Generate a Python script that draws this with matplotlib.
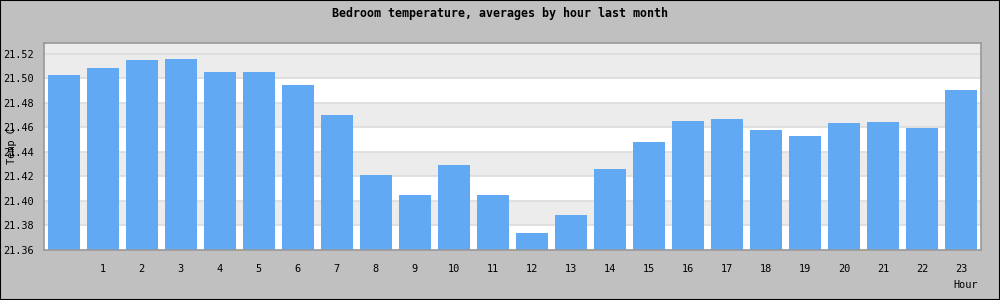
import matplotlib
matplotlib.use("Agg")
import matplotlib.pyplot as plt
import numpy as np

title = "Bedroom temperature, averages by hour last month"
hours = list(range(24))
temps = [21.5024, 21.5081, 21.5146, 21.5154, 21.5048, 21.5048, 21.4942, 21.4698,
         21.4210, 21.4047, 21.4292, 21.4047, 21.3738, 21.3885, 21.4259, 21.4479,
         21.4650, 21.4666, 21.4576, 21.4527, 21.4633, 21.4641, 21.4593, 21.4902]
yticks = [21.36, 21.38, 21.40, 21.42, 21.44, 21.46, 21.48, 21.50, 21.52]
xtick_labels = [str(h) for h in hours[1:]]
xlabel = "Hour"
ylabel = "Temp C"

W, H = 1000, 300
fig = plt.figure(figsize=(W / 100, H / 100), dpi=100, facecolor="#c0c0c0")
fig.patches.append(plt.Rectangle((0, 0), 1, 1, transform=fig.transFigure,
                                 fill=False, edgecolor="black", linewidth=1.5))
left, right, top, bottom = 44, 981, 43, 250
ax = fig.add_axes([left / W, 1 - bottom / H, (right - left) / W, (bottom - top) / H])
ax.set_facecolor("white")

ylo, yhi = 21.36, 21.5287
ax.set_ylim(ylo, yhi)
ax.set_xlim(-0.5, 23.5)

# alternating bands
for i in range(len(yticks)):
    lo = yticks[i]
    hi = yticks[i + 1] if i + 1 < len(yticks) else yhi
    if i % 2 == 1 or i == len(yticks) - 1:
        ax.axhspan(lo, hi, color="#ececec", zorder=0, linewidth=0)
for y in yticks[1:]:
    ax.axhline(y, color="#dcdcdc", linewidth=1.2, zorder=0.5)

ax.bar(hours, temps, width=0.82, bottom=0, color="#61a9f3", zorder=2)
ax.set_ylim(ylo, yhi)

mono = "DejaVu Sans Mono"
ax.set_yticks(yticks)
ax.set_yticklabels([f"{v:.2f}" for v in yticks], fontfamily=mono, fontsize=7.4)
ax.set_xticks(hours[1:])
ax.set_xticklabels(xtick_labels, fontfamily=mono, fontsize=7.4)
ax.tick_params(axis="y", length=0, pad=7)
ax.tick_params(axis="x", length=0, pad=10)

for s in ax.spines.values():
    s.set_color("#999999")
    s.set_linewidth(1.2)

fig.text(0.5, 1 - 13 / H, title, ha="center", va="center",
         fontfamily=mono, fontweight="bold", fontsize=8.4)
fig.text(978 / W, 1 - 285 / H, xlabel, ha="right", va="center",
         fontfamily=mono, fontsize=7.4)
fig.text(12 / W, 1 - 146 / H, ylabel, ha="center", va="center", rotation=90,
         fontfamily=mono, fontsize=7.4)

fig.savefig("out.png", dpi=100, facecolor=fig.get_facecolor())
